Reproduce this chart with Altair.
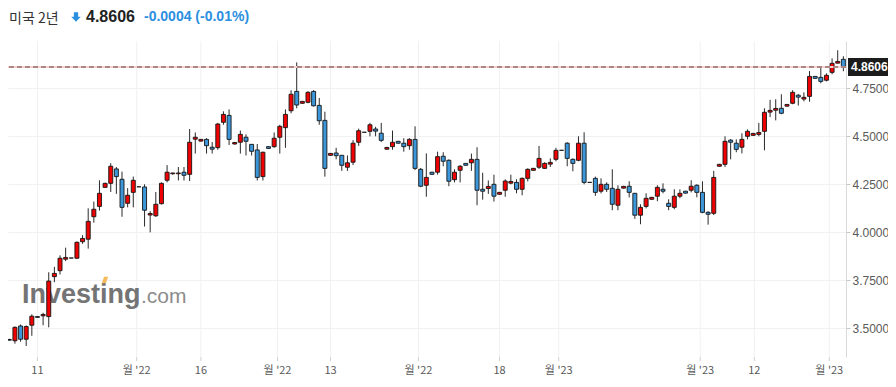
import altair as alt
import pandas as pd

# ---------------- data ----------------
opens = [
3.442, 3.435, 3.512, 3.443, 3.516, 3.561, 3.565, 3.561, 3.769, 3.800,
3.860, 3.866, 3.865, 3.951, 3.964, 4.081, 4.135, 4.234, 4.255, 4.330,
4.276, 4.151, 4.208, 4.237, 4.236, 4.090, 4.086, 4.149, 4.271, 4.305,
4.305, 4.313, 4.302, 4.485, 4.475, 4.484, 4.443, 4.441, 4.573, 4.609,
4.460, 4.469, 4.495, 4.458, 4.429, 4.290, 4.446, 4.446, 4.495, 4.545,
4.633, 4.734, 4.672, 4.677, 4.734, 4.661, 4.583, 4.401, 4.413, 4.401,
4.339, 4.365, 4.469, 4.521, 4.526, 4.538, 4.516, 4.433, 4.446, 4.474,
4.464, 4.451, 4.484, 4.328, 4.245, 4.313, 4.313, 4.396, 4.375, 4.274,
4.323, 4.359, 4.362, 4.380, 4.224, 4.228, 4.250, 4.198, 4.219, 4.256,
4.260, 4.224, 4.281, 4.323, 4.339, 4.333, 4.355, 4.380, 4.427, 4.464,
4.380, 4.375, 4.464, 4.260, 4.281, 4.214, 4.250, 4.229, 4.141, 4.230,
4.240, 4.203, 4.089, 4.135, 4.172, 4.188, 4.224, 4.151, 4.130, 4.188,
4.214, 4.219, 4.245, 4.208, 4.104, 4.099, 4.344, 4.354, 4.480, 4.464,
4.443, 4.500, 4.505, 4.510, 4.526, 4.626, 4.636, 4.646, 4.657, 4.672,
4.714, 4.694, 4.708, 4.812, 4.807, 4.792, 4.833, 4.881, 4.901]

highs = [
3.445, 3.510, 3.520, 3.515, 3.573, 3.563, 3.581, 3.792, 3.820, 3.880,
3.920, 3.866, 3.952, 3.985, 4.125, 4.160, 4.271, 4.258, 4.360, 4.340,
4.316, 4.230, 4.290, 4.237, 4.250, 4.110, 4.210, 4.260, 4.350, 4.310,
4.340, 4.340, 4.538, 4.520, 4.486, 4.490, 4.470, 4.570, 4.630, 4.640,
4.470, 4.530, 4.510, 4.460, 4.460, 4.420, 4.448, 4.520, 4.560, 4.640,
4.740, 4.885, 4.684, 4.735, 4.740, 4.700, 4.628, 4.413, 4.440, 4.401,
4.400, 4.480, 4.540, 4.521, 4.570, 4.550, 4.570, 4.445, 4.530, 4.476,
4.490, 4.490, 4.552, 4.335, 4.411, 4.315, 4.420, 4.417, 4.380, 4.328,
4.350, 4.361, 4.410, 4.443, 4.310, 4.270, 4.300, 4.210, 4.276, 4.300,
4.276, 4.286, 4.333, 4.335, 4.450, 4.365, 4.385, 4.440, 4.427, 4.469,
4.385, 4.500, 4.521, 4.260, 4.290, 4.281, 4.260, 4.328, 4.245, 4.242,
4.266, 4.205, 4.146, 4.203, 4.184, 4.245, 4.255, 4.172, 4.224, 4.224,
4.216, 4.271, 4.250, 4.266, 4.110, 4.320, 4.356, 4.500, 4.485, 4.484,
4.516, 4.536, 4.518, 4.570, 4.646, 4.690, 4.693, 4.719, 4.668, 4.740,
4.720, 4.729, 4.840, 4.814, 4.865, 4.828, 4.906, 4.948, 4.917]

lows = [
3.436, 3.420, 3.430, 3.408, 3.461, 3.555, 3.516, 3.505, 3.740, 3.780,
3.850, 3.866, 3.862, 3.940, 3.915, 4.050, 4.113, 4.232, 4.210, 4.200,
4.081, 4.130, 4.130, 4.237, 4.030, 4.000, 4.080, 4.145, 4.260, 4.300,
4.270, 4.270, 4.267, 4.410, 4.473, 4.410, 4.410, 4.430, 4.560, 4.455,
4.457, 4.410, 4.400, 4.400, 4.270, 4.270, 4.435, 4.440, 4.410, 4.440,
4.620, 4.646, 4.670, 4.672, 4.655, 4.560, 4.290, 4.399, 4.380, 4.320,
4.320, 4.350, 4.450, 4.521, 4.500, 4.500, 4.470, 4.430, 4.430, 4.462,
4.420, 4.430, 4.324, 4.235, 4.185, 4.300, 4.300, 4.344, 4.240, 4.260,
4.260, 4.347, 4.320, 4.141, 4.170, 4.200, 4.160, 4.196, 4.185, 4.250,
4.203, 4.193, 4.265, 4.321, 4.330, 4.330, 4.340, 4.370, 4.427, 4.344,
4.318, 4.370, 4.250, 4.260, 4.190, 4.203, 4.210, 4.115, 4.115, 4.228,
4.182, 4.070, 4.042, 4.125, 4.170, 4.162, 4.203, 4.115, 4.120, 4.177,
4.202, 4.208, 4.182, 4.099, 4.040, 4.090, 4.342, 4.340, 4.380, 4.417,
4.411, 4.484, 4.503, 4.500, 4.427, 4.600, 4.583, 4.615, 4.655, 4.667,
4.660, 4.682, 4.680, 4.800, 4.776, 4.786, 4.823, 4.880, 4.839]

closes = [
3.438, 3.505, 3.443, 3.509, 3.563, 3.557, 3.572, 3.746, 3.786, 3.865,
3.869, 3.866, 3.948, 3.968, 4.057, 4.120, 4.203, 4.255, 4.344, 4.290,
4.130, 4.193, 4.271, 4.237, 4.115, 4.098, 4.146, 4.255, 4.313, 4.309,
4.309, 4.297, 4.469, 4.495, 4.484, 4.451, 4.433, 4.564, 4.614, 4.484,
4.468, 4.510, 4.474, 4.422, 4.286, 4.417, 4.437, 4.490, 4.552, 4.614,
4.719, 4.663, 4.682, 4.729, 4.659, 4.581, 4.333, 4.411, 4.399, 4.349,
4.362, 4.464, 4.529, 4.521, 4.560, 4.527, 4.479, 4.442, 4.469, 4.464,
4.446, 4.484, 4.333, 4.240, 4.286, 4.302, 4.394, 4.370, 4.266, 4.313,
4.344, 4.349, 4.380, 4.219, 4.214, 4.239, 4.188, 4.208, 4.267, 4.265,
4.224, 4.281, 4.328, 4.333, 4.385, 4.359, 4.364, 4.427, 4.427, 4.385,
4.359, 4.464, 4.260, 4.260, 4.208, 4.250, 4.224, 4.146, 4.224, 4.239,
4.208, 4.089, 4.130, 4.177, 4.182, 4.234, 4.214, 4.135, 4.188, 4.203,
4.204, 4.240, 4.208, 4.104, 4.094, 4.286, 4.354, 4.474, 4.469, 4.432,
4.484, 4.526, 4.515, 4.520, 4.625, 4.635, 4.645, 4.620, 4.666, 4.729,
4.704, 4.703, 4.812, 4.802, 4.786, 4.818, 4.880, 4.890, 4.8606]

tick_positions = [5.0, 22.6, 34.0, 47.6, 57.0, 72.6, 87.0, 97.5, 122.6, 132.2, 145.5]
tick_labels = ["11", "월 '22", "16", "월 '22", "13", "월 '22", "18", "월 '23", "월 '23", "12", "월 '23"]
y_ticks = [3.5, 3.75, 4.0, 4.25, 4.5, 4.75]

title_name = "미국 2년"
last_price = 4.8606
price_change = "-0.0004 (-0.01%)"

# ---------------- tables ----------------
df = pd.DataFrame({
    "i": list(range(len(opens))),
    "open": opens, "high": highs, "low": lows, "close": closes,
})
df["dir"] = ["up" if c >= o else "down" for o, c in zip(opens, closes)]
ticks_df = pd.DataFrame({"pos": tick_positions, "label": tick_labels})
price_df = pd.DataFrame({"price": [last_price], "label": [f"{last_price:.4f}"]})

W, H = 838, 316
xs = alt.Scale(domain=[-0.23, 148.47], nice=False, zero=False, padding=0)
ys = alt.Scale(domain=[3.3505, 4.9964], nice=False, zero=False, padding=0)

# ---------------- layers ----------------
xgrid = alt.Chart(ticks_df).mark_rule(color="#f1f1f1", strokeWidth=1).encode(
    x=alt.X("pos:Q", scale=xs, axis=None)
)

watermark1 = alt.Chart(price_df).mark_text(
    text="Investing", font="Liberation Sans", fontWeight="bold", fontSize=27,
    color="#747474", align="left", baseline="alphabetic"
).encode(x=alt.value(14), y=alt.value(262))
watermark_dot = alt.Chart(price_df).mark_point(
    shape="M-0.3,-1H1L0.3,1H-1Z", filled=True, size=40, color="#f3b24a", opacity=0.9
).encode(x=alt.value(97), y=alt.value(239))
watermark2 = alt.Chart(price_df).mark_text(
    text=".com", font="Liberation Sans", fontSize=21,
    color="#8c8c8c", align="left", baseline="alphabetic"
).encode(x=alt.value(133), y=alt.value(262))

wicks = alt.Chart(df).mark_rule(color="#2a2a2a", strokeWidth=1).encode(
    x=alt.X("i:Q", scale=xs,
            axis=alt.Axis(labels=False, ticks=False, grid=False, domainColor="#dcdcdc", title=None)),
    y=alt.Y("low:Q", scale=ys,
            axis=alt.Axis(orient="right", values=y_ticks, format=".4f", title=None,
                          grid=True, gridColor="#f1f1f1", domainColor="#d8d8d8",
                          tickColor="#c8c8c8", tickSize=4, labelPadding=2,
                          labelColor="#5a5a5a", labelFont="Liberation Sans", labelFontSize=12)),
    y2="high:Q",
)

bodies = alt.Chart(df).mark_bar(size=4, stroke="#151515", strokeWidth=0.9).encode(
    x=alt.X("i:Q", scale=xs),
    y=alt.Y("open:Q", scale=ys),
    y2="close:Q",
    color=alt.Color("dir:N", scale=alt.Scale(domain=["up", "down"], range=["#f00000", "#3c97da"]), legend=None),
)

price_line_bg = alt.Chart(price_df).mark_rule(color="#f6d3d3", strokeWidth=2).encode(
    y=alt.Y("price:Q", scale=ys)
)
price_line = alt.Chart(price_df).mark_rule(color="#ad8585", strokeWidth=2, strokeDash=[5, 3]).encode(
    y=alt.Y("price:Q", scale=ys)
)
price_tag = alt.Chart(price_df).mark_rule(color="#1c1c1c", strokeWidth=18, strokeCap="butt").encode(
    x=alt.value(840), x2=alt.value(880), y=alt.Y("price:Q", scale=ys)
)
price_text = alt.Chart(price_df).mark_text(
    font="Liberation Sans", fontWeight="bold", fontSize=12, color="white",
    align="left", baseline="middle"
).encode(x=alt.value(843), y=alt.Y("price:Q", scale=ys), text="label:N")

xticks = alt.Chart(ticks_df).mark_rule(color="#d0d0d0").encode(
    x=alt.X("pos:Q", scale=xs), y=alt.value(H), y2=alt.value(H + 4)
)
xlabels = alt.Chart(ticks_df).mark_text(
    font="Noto Sans CJK KR", fontSize=11, color="#5a5a5a", baseline="middle"
).encode(x=alt.X("pos:Q", scale=xs), y=alt.value(H + 14), text="label:N")

t_name = alt.Chart(price_df).mark_text(
    text=title_name, font="Noto Sans CJK KR", fontSize=14, color="#333333",
    align="left", baseline="middle"
).encode(x=alt.value(1), y=alt.value(-22))
t_arrow = alt.Chart(price_df).mark_point(
    shape="M-0.45,-1H0.45V-0.05H1L0,1L-1,-0.05H-0.45Z", filled=True, size=90,
    color="#2b8fe0", opacity=1
).encode(x=alt.value(68), y=alt.value(-24))
t_price = alt.Chart(price_df).mark_text(
    font="Liberation Sans", fontWeight="bold", fontSize=16, color="#222222",
    align="left", baseline="middle"
).encode(x=alt.value(78), y=alt.value(-24), text="label:N")
t_change = alt.Chart(price_df).mark_text(
    text=price_change, font="Liberation Sans", fontWeight="bold", fontSize=14,
    color="#2b8fe0", align="left", baseline="middle"
).encode(x=alt.value(136), y=alt.value(-24))

chart = alt.layer(
    xgrid, watermark1, watermark_dot, watermark2, wicks, bodies,
    price_line_bg, price_line, price_tag, price_text,
    xticks, xlabels, t_name, t_arrow, t_price, t_change,
).properties(
    width=W, height=H,
    autosize=alt.AutoSizeParams(type="none"),
    padding={"left": 0, "top": 33, "right": 42, "bottom": 20},
    background="white",
).configure_view(stroke=None)

chart.save("out.html", embed_options={"renderer": "svg", "actions": False})
